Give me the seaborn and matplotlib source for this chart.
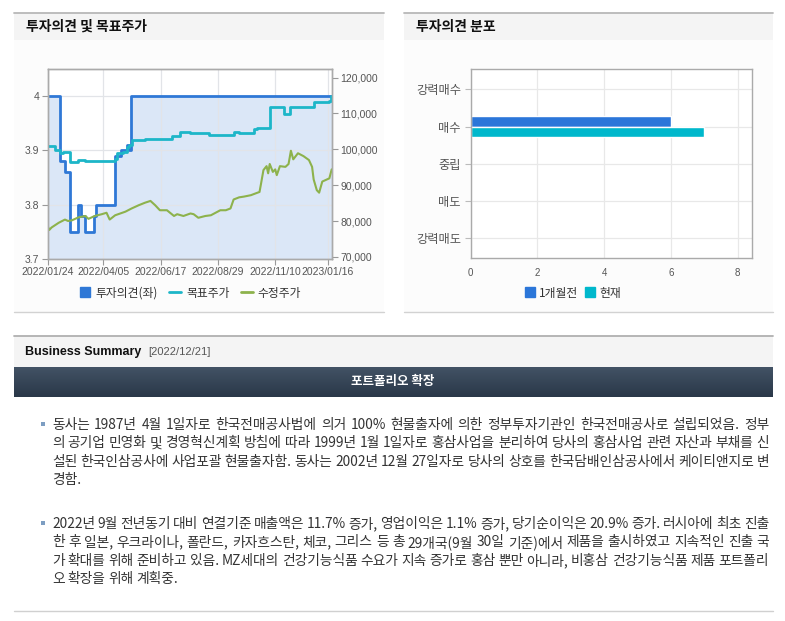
import seaborn as sns
import matplotlib.pyplot as plt
import matplotlib.dates as mdates
from matplotlib.lines import Line2D
from matplotlib.patches import Rectangle
from matplotlib.colors import LinearSegmentedColormap
import pandas as pd
import numpy as np

# --- data ---
opinion_dates = ["2022-01-24", "2022-02-09", "2022-02-15", "2022-02-21", "2022-03-04",
                 "2022-03-07", "2022-03-13", "2022-03-24", "2022-03-27", "2022-04-20",
                 "2022-04-27", "2022-05-05", "2022-05-08", "2022-05-10", "2023-01-21"]
opinion_values = [4.0, 3.88, 3.86, 3.75, 3.8, 3.78, 3.75, 3.78, 3.8, 3.89,
                  3.9, 3.91, 3.9, 4.0, 4.0]

target_dates = ["2022-01-24", "2022-02-02", "2022-02-09", "2022-02-12", "2022-02-21",
                "2022-03-03", "2022-03-12", "2022-04-20", "2022-04-22", "2022-04-30",
                "2022-05-05", "2022-05-08", "2022-05-11", "2022-05-28", "2022-06-27",
                "2022-07-02", "2022-07-12", "2022-07-25", "2022-08-07", "2022-08-17",
                "2022-09-18", "2022-09-25", "2022-10-14", "2022-10-18", "2022-11-03",
                "2022-11-21", "2022-11-29", "2022-12-29", "2023-01-18", "2023-01-20",
                "2023-01-21"]
target_values = [101000, 99800, 98900, 99300, 96400, 97000, 96800, 97300, 98900, 99300,
                 100700, 101200, 102600, 102800, 103000, 103800, 104900, 104500, 104600, 104000,
                 104900, 104500, 105600, 106000, 111900, 109800, 111900, 113200, 113400, 114900,
                 114900]

price_dates = ["2022-01-24", "2022-01-26", "2022-01-29", "2022-02-07", "2022-02-15",
               "2022-02-19", "2022-02-24", "2022-03-04", "2022-03-13", "2022-03-17",
               "2022-03-25", "2022-04-03", "2022-04-09", "2022-04-13", "2022-04-20",
               "2022-05-03", "2022-05-11", "2022-05-20", "2022-05-28", "2022-06-04",
               "2022-06-10", "2022-06-16", "2022-06-25", "2022-07-04", "2022-07-08",
               "2022-07-16", "2022-07-25", "2022-07-29", "2022-08-04", "2022-08-13",
               "2022-08-20", "2022-08-26", "2022-09-01", "2022-09-08", "2022-09-14",
               "2022-09-18", "2022-09-25", "2022-10-01", "2022-10-10", "2022-10-16",
               "2022-10-21", "2022-10-23", "2022-10-26", "2022-10-30", "2022-11-01",
               "2022-11-03", "2022-11-07", "2022-11-10", "2022-11-12", "2022-11-16",
               "2022-11-23", "2022-11-27", "2022-11-30", "2022-12-03", "2022-12-09",
               "2022-12-16", "2022-12-23", "2022-12-27", "2022-12-29", "2023-01-02",
               "2023-01-05", "2023-01-09", "2023-01-13", "2023-01-18", "2023-01-21"]
price_values = [78600, 77500, 78200, 79500, 80400, 80000, 80200, 81000, 81400, 80600,
                81400, 81900, 82300, 80400, 81600, 82600, 83500, 84400, 85100, 85600,
                84400, 83000, 83000, 81400, 81900, 81400, 82100, 81900, 80900, 81400,
                81600, 82300, 83000, 83000, 83500, 86000, 86600, 86800, 87200, 87700,
                88100, 90500, 94200, 95300, 93300, 95900, 93700, 94400, 92800, 95300,
                95100, 95900, 99600, 97200, 98900, 98100, 97000, 95100, 91600, 88600,
                87900, 91000, 91400, 91900, 94400]

date_ticks = ["2022-01-24", "2022-04-05", "2022-06-17", "2022-08-29", "2022-11-10", "2023-01-16"]
price_ticks = [70000, 80000, 90000, 100000, 110000, 120000]
opinion_ticks = [3.7, 3.8, 3.9, 4.0]
opinion_tick_labels = ["3.7", "3.8", "3.9", "4"]

rating_labels = ["강력매수", "매수", "중립", "매도", "강력매도"]
period_labels = ["1개월전", "현재"]
month_ago_counts = [0, 6, 0, 0, 0]
current_counts = [0, 7, 0, 0, 0]

summary_date = "[2022/12/21]"
summary_title = "포트폴리오 확장"
summary_p1 = [
    "동사는 1987년 4월 1일자로 한국전매공사법에 의거 100% 현물출자에 의한 정부투자기관인 한국전매공사로 설립되었음. 정부",
    "의 공기업 민영화 및 경영혁신계획 방침에 따라 1999년 1월 1일자로 홍삼사업을 분리하여 당사의 홍삼사업 관련 자산과 부채를 신",
    "설된 한국인삼공사에 사업포괄 현물출자함. 동사는 2002년 12월 27일자로 당사의 상호를 한국담배인삼공사에서 케이티앤지로 변",
    "경함.",
]
summary_p2 = [
    "2022년 9월 전년동기 대비 연결기준 매출액은 11.7% 증가, 영업이익은 1.1% 증가, 당기순이익은 20.9% 증가. 러시아에 최초 진출",
    "한 후 일본, 우크라이나, 폴란드, 카자흐스탄, 체코, 그리스 등 총 29개국(9월 30일 기준)에서 제품을 출시하였고 지속적인 진출 국",
    "가 확대를 위해 준비하고 있음. MZ세대의 건강기능식품 수요가 지속 증가로 홍삼 뿐만 아니라, 비홍삼 건강기능식품 제품 포트폴리",
    "오 확장을 위해 계획중.",
]

# --- theme / fonts ---
sns.set_theme(style="white")
plt.rcParams['font.family'] = ['Noto Sans CJK KR', 'DejaVu Sans']
plt.rcParams['axes.unicode_minus'] = False

BLUE = "#2f78d6"
FILL = "#dbe7f7"
CYAN = "#1db6c8"
GREEN = "#8db24c"
BAR_BLUE = "#2b76d9"
BAR_CYAN = "#00b8cc"
SPINE = "#aaaaaa"
GRID = "#e2e4e8"
NUM_FONT = "Liberation Sans"

W, H = 785, 621
fig = plt.figure(figsize=(W / 100, H / 100), dpi=100)
fig.patch.set_facecolor("white")
renderer = fig.canvas.get_renderer()


def px_axes(x0, y0, x1, y1, **kw):
    return fig.add_axes([x0 / W, 1 - y1 / H, (x1 - x0) / W, (y1 - y0) / H], **kw)


# --- page background drawn in pixel coordinates ---
bg = fig.add_axes([0, 0, 1, 1], zorder=-10)
bg.axis("off")
bg.set_xlim(0, W)
bg.set_ylim(H, 0)

for x0, x1, title in [(14, 384, "투자의견 및 목표주가"), (404, 773, "투자의견 분포")]:
    bg.add_patch(Rectangle((x0, 12.5), x1 - x0, 27.5, fc="#f4f4f4", ec="none"))
    bg.add_patch(Rectangle((x0, 40), x1 - x0, 272, fc="#fcfcfc", ec="none"))
    bg.plot([x0, x1], [12.5, 12.5], color="#b8b8b8", lw=1.3)
    bg.plot([x0, x1], [312, 312], color="#d2d2d2", lw=1)
    bg.text(x0 + 12, 27, title, fontsize=10, fontweight="bold", va="center", color="#111")

# business summary block
bg.plot([14, 773], [335.5, 335.5], color="#b0b0b0", lw=1.3)
bg.add_patch(Rectangle((14, 336), 759, 31, fc="#f4f4f4", ec="none"))
bg.text(25, 352, "Business Summary", fontsize=9, fontweight="bold", family=NUM_FONT,
        va="center", color="#111")
bg.text(148, 352, summary_date, fontsize=8, family=NUM_FONT, va="center", color="#555")

bar_cmap = LinearSegmentedColormap.from_list("bar", ["#425265", "#2a3848"])
bg.imshow(np.linspace(0, 1, 40).reshape(-1, 1), extent=(14, 773, 397, 367),
          cmap=bar_cmap, aspect="auto", origin="upper")
bg.text(393, 382, summary_title, fontsize=9, fontweight="bold", color="white",
        ha="center", va="center")


def draw_paragraph(lines, top, x0=52, x1=769, size=9.9, step=18.3):
    # word-justified lines, like the browser block in the reference
    measured = []
    for line in lines:
        widths = []
        for word in line.split(" "):
            t = bg.text(0, 0, word, fontsize=size)
            widths.append(t.get_window_extent(renderer).width)
            t.remove()
        measured.append((line.split(" "), widths))
    gaps = [(x1 - x0 - sum(w)) / (len(w) - 1) for _, w in measured[:-1] if len(w) > 1]
    last_gap = float(np.mean(gaps)) if gaps else 4
    for i, (words, widths) in enumerate(measured):
        gap = (x1 - x0 - sum(widths)) / max(len(words) - 1, 1) if i < len(lines) - 1 else last_gap
        x = x0
        for word, w in zip(words, widths):
            bg.text(x, top + i * step, word, fontsize=size, va="center", color="#333")
            x += w + gap
    bg.add_patch(Rectangle((40.5, top - 3), 4, 4, fc="#7d9ec2", ec="none"))


draw_paragraph(summary_p1, 425)
draw_paragraph(summary_p2, 524)

bg.plot([14, 773], [611, 611], color="#d0d0d0", lw=1)
bg.set_xlim(0, W)
bg.set_ylim(H, 0)

# --- left chart: opinion (left axis) + target / adjusted price (right axis) ---
opinion_df = pd.DataFrame({"date": pd.to_datetime(opinion_dates), "opinion": opinion_values})
target_df = pd.DataFrame({"date": pd.to_datetime(target_dates), "target": target_values})
price_df = pd.DataFrame({"date": pd.to_datetime(price_dates), "price": price_values})

ax = px_axes(47.7, 69, 331.7, 259)
ax.fill_between(opinion_df["date"], opinion_df["opinion"], 3.7, step="post",
                color=FILL, lw=0, zorder=0.3)
sns.lineplot(data=opinion_df, x="date", y="opinion", drawstyle="steps-post",
             color=BLUE, lw=2, estimator=None, ax=ax, zorder=2)
ax.set_ylim(3.7, 4.05)
ax.set_yticks(opinion_ticks)
ax.set_yticklabels(opinion_tick_labels)
ax.set_xlim(pd.Timestamp("2022-01-24"), pd.Timestamp("2023-01-21"))
ax.set_xticks(pd.to_datetime(date_ticks))
ax.xaxis.set_major_formatter(mdates.DateFormatter("%Y/%m/%d"))
ax.set_axisbelow(True)
ax.grid(True, color=GRID, lw=0.9)
ax.set_xlabel("")
ax.set_ylabel("")

ax2 = ax.twinx()
sns.lineplot(data=target_df, x="date", y="target", drawstyle="steps-post",
             color=CYAN, lw=2, estimator=None, ax=ax2)
sns.lineplot(data=price_df, x="date", y="price", color=GREEN, lw=1.5,
             estimator=None, ax=ax2)
ax2.set_ylim(69400, 122400)
ax2.set_yticks(price_ticks)
ax2.set_yticklabels([f"{v:,}" for v in price_ticks])
ax2.set_xlim(pd.Timestamp("2022-01-24"), pd.Timestamp("2023-01-21"))
ax2.set_xlabel("")
ax2.set_ylabel("")

for a in (ax, ax2):
    for s in a.spines.values():
        s.set_color(SPINE)
        s.set_linewidth(1)
    a.tick_params(axis="both", which="both", labelsize=7.5, labelcolor="#555",
                  color="#999", length=4, width=0.8, pad=2)
    a.tick_params(axis="x", bottom=True)
    for lab in a.get_xticklabels() + a.get_yticklabels():
        lab.set_fontfamily(NUM_FONT)
ax.tick_params(axis="y", left=True)
ax2.tick_params(axis="y", right=True)

left_handles = [
    Line2D([], [], marker="s", ls="none", color=BLUE, markersize=7),
    Line2D([], [], color=CYAN, lw=2),
    Line2D([], [], color=GREEN, lw=2),
]
ax.legend(left_handles, ["투자의견(좌)", "목표주가", "수정주가"], loc="center",
          bbox_to_anchor=(190 / W, 1 - 293 / H), bbox_transform=fig.transFigure,
          ncol=3, frameon=False, fontsize=8.5, handlelength=1.0, handletextpad=0.4,
          columnspacing=1.0, labelcolor="#333")

# --- right chart: opinion distribution ---
dist_df = pd.DataFrame({
    "rating": rating_labels * 2,
    "period": [period_labels[0]] * len(rating_labels) + [period_labels[1]] * len(rating_labels),
    "count": month_ago_counts + current_counts,
})

ax3 = px_axes(470.7, 69.3, 751.7, 258.3)
sns.barplot(data=dist_df, y="rating", x="count", hue="period", order=rating_labels,
            hue_order=period_labels, palette=[BAR_BLUE, BAR_CYAN], width=0.56,
            saturation=1, errorbar=None, orient="h", legend=False, ax=ax3)
ax3.set_xlim(0, 8.42)
ax3.set_ylim(4.54, -0.54)
ax3.set_xticks([0, 2, 4, 6, 8])
ax3.set_axisbelow(True)
ax3.grid(True, color="#e8e8e8", lw=0.9)
ax3.set_xlabel("")
ax3.set_ylabel("")
for s in ax3.spines.values():
    s.set_color(SPINE)
    s.set_linewidth(1)
ax3.tick_params(axis="x", labelsize=7, labelcolor="#555", length=0, pad=7)
ax3.tick_params(axis="y", labelsize=8.8, labelcolor="#555", left=True, color="#bbb",
                length=4, width=0.8, pad=3)
for lab in ax3.get_xticklabels():
    lab.set_fontfamily(NUM_FONT)

right_handles = [
    Line2D([], [], marker="s", ls="none", color=BAR_BLUE, markersize=7),
    Line2D([], [], marker="s", ls="none", color=BAR_CYAN, markersize=7),
]
ax3.legend(right_handles, period_labels, loc="center",
           bbox_to_anchor=(573 / W, 1 - 293 / H), bbox_transform=fig.transFigure,
           ncol=2, frameon=False, fontsize=8.5, handlelength=0.8, handletextpad=0.4,
           columnspacing=0.6, labelcolor="#333")

fig.savefig("out.png", dpi=100)
